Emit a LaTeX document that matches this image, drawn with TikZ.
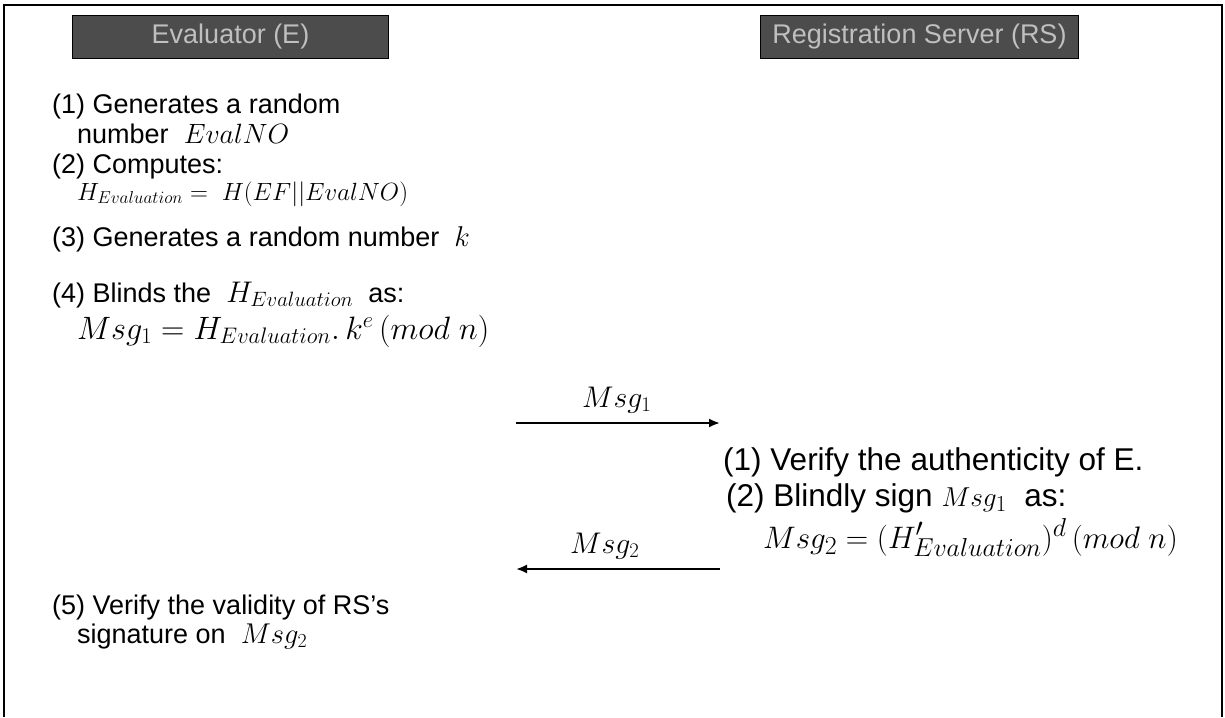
\documentclass[tikz,border=0pt]{standalone}
\usepackage{fontspec}
\setmainfont{Liberation Sans}
\usetikzlibrary{arrows.meta}
\newcommand{\mth}[2]{\scalebox{#1}{$#2$}}
\tikzset{
  txt/.style={anchor=base west, inner sep=0pt, font=\fontsize{27}{30}\selectfont},
  rtxt/.style={anchor=base west, inner sep=0pt, font=\fontsize{31.5}{34}\selectfont},
  hdr/.style={draw=black, line width=1pt, fill=black!70, text=black!25, inner sep=0pt,
     minimum height=43pt, font=\fontsize{27}{30}\selectfont},
  msgarrow/.style={line width=2pt, -{Latex[length=11pt,width=9pt]}},
  frame/.style={line width=1.5pt, black}
}
\begin{document}
\begin{tikzpicture}[x=1pt,y=-1pt]
\useasboundingbox (0,0) rectangle (1225,717);
\draw[frame] (4,717) -- (4,5) -- (1222,5) -- (1222,717);
\node[hdr, minimum width=316pt, anchor=north west] (hE) at (72,15) {Evaluator (E)};
\node[hdr, minimum width=318pt, anchor=north west] (hRS) at (760,15) {Registration Server (RS)};
% left column
\node[txt] (l1) at (52,113) {(1) Generates a random};
\node[txt] (l2) at (77,143) {number \ \mth{1.12}{EvalNO}};
\node[txt] (l3) at (52,173) {(2) Computes:};
\node[txt] (l4) at (77,200) {\mth{1.0}{H_{Evaluation} =\; H(EF||EvalNO)}};
\node[txt] (l5) at (52,246) {(3) Generates a random number \ \mth{1.15}{k}};
\node[txt] (l6) at (52,302) {(4) Blinds the \ \mth{1.2}{H_{Evaluation}} \ as:};
\node[txt] (l7) at (77,339) {\mth{1.3}{Msg_1 = H_{Evaluation}.\,k^e\,(mod\;n)}};
% messages
\coordinate (m1s) at (516,423);
\coordinate (m1e) at (720,423);
\draw[msgarrow] (m1s) -- (m1e);
\node[txt] (m1lab) at (582,407) {\mth{1.2}{Msg_1}};
\node[rtxt] (r1) at (723,470) {(1) Verify the authenticity of E.};
\node[rtxt] (r2) at (726,506) {(2) Blindly sign \mth{1.1}{Msg_1} \ as:};
\node[rtxt] (r3) at (763,548) {\mth{1.25}{Msg_2 = (H'_{Evaluation})^d\,(mod\;n)}};
\coordinate (m2s) at (720,569);
\coordinate (m2e) at (516,569);
\draw[msgarrow] (m2s) -- (m2e);
\node[txt] (m2lab) at (570,553) {\mth{1.2}{Msg_2}};
\node[txt] (l8) at (52,614) {(5) Verify the validity of RS's};
\node[txt] (l9) at (77,643) {signature on \ \mth{1.15}{Msg_2}};
\end{tikzpicture}
\end{document}
